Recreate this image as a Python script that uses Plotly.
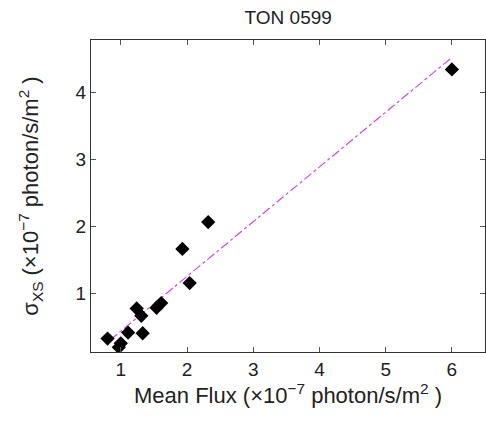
import plotly.graph_objects as go

flux = [6.00, 2.32, 1.93, 2.04, 1.61, 1.54, 1.24, 1.31, 1.11, 1.33, 0.80, 1.00, 0.97]
sigma = [4.34, 2.06, 1.66, 1.15, 0.85, 0.78, 0.77, 0.66, 0.41, 0.40, 0.32, 0.25, 0.19]
fit_x = [0.84, 6.00]
fit_y = [0.30, 4.52]
x_ticks = [1, 2, 3, 4, 5, 6]
y_ticks = [1, 2, 3, 4]

fig = go.Figure()
fig.add_trace(go.Scatter(x=fit_x, y=fit_y, mode="lines",
                         line=dict(color="#d048e0", width=1.2, dash="dashdot"),
                         showlegend=False))
fig.add_trace(go.Scatter(x=flux, y=sigma, mode="markers",
                         marker=dict(symbol="diamond", size=11, color="black"),
                         showlegend=False))

font = "Liberation Sans, Arial, sans-serif"
axis_common = dict(showline=True, linecolor="#333", linewidth=1, mirror="allticks",
                   ticks="inside", ticklen=5, tickcolor="#555", showgrid=False,
                   zeroline=False, tickfont=dict(size=19, color="#222", family=font))

fig.update_layout(
    width=486, height=421,
    margin=dict(l=91, r=1, t=40, b=69),
    plot_bgcolor="white", paper_bgcolor="white",
    title=dict(text="TON 0599", x=0.593, xanchor="center", y=0.975, yanchor="top",
               font=dict(size=19, color="#222", family=font)),
    xaxis=dict(range=[0.55, 6.5], tickvals=x_ticks,
               title=dict(text="Mean Flux (×10<sup>−7</sup> photon/s/m<sup>2</sup> )",
                          font=dict(size=22, color="#222", family=font), standoff=3),
               **axis_common),
    yaxis=dict(range=[0.12, 4.78], tickvals=y_ticks,
               title=dict(text="σ<sub>XS</sub> (×10<sup>−7</sup> photon/s/m<sup>2</sup> )",
                          font=dict(size=22, color="#222", family=font), standoff=30),
               **axis_common),
)
fig.write_html("out.html")
